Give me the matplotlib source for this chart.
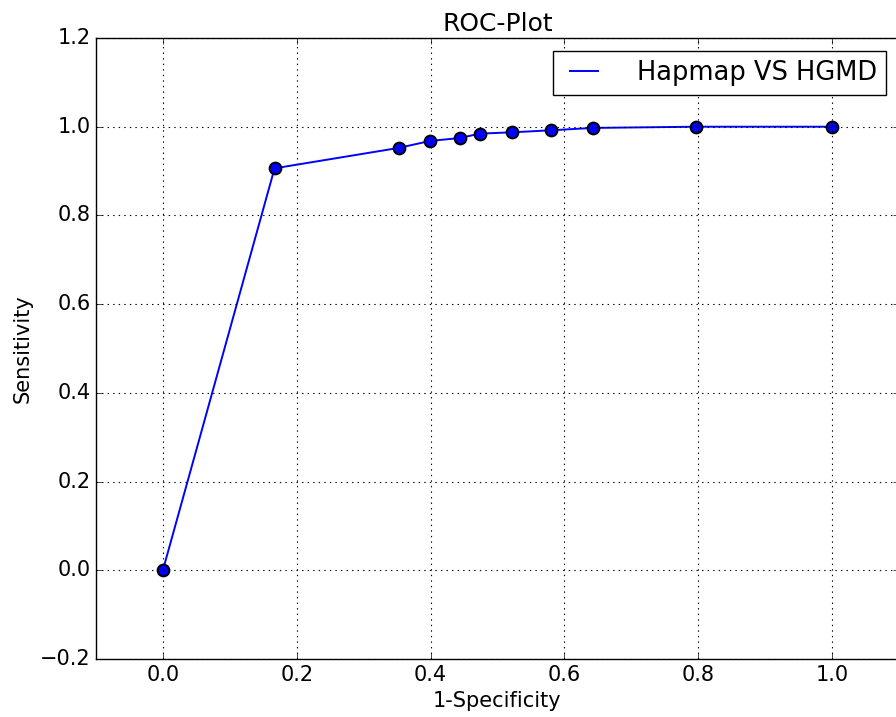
import numpy as np
import matplotlib
matplotlib.use('Agg')
import matplotlib.pyplot as plt

# ROC points
fpr = [0.0, 0.1669, 0.3523, 0.3996, 0.4436, 0.4738, 0.5220, 0.5795, 0.6430, 0.7970, 1.0]
tpr = [0.0, 0.9062, 0.9522, 0.9680, 0.9745, 0.9844, 0.9874, 0.9919, 0.9973, 1.0, 1.0]
label = 'Hapmap VS HGMD'

plt.style.use('classic')
plt.rcParams['font.family'] = ['DejaVu Sans']

fig = plt.figure(figsize=(8.96, 7.17), dpi=100, facecolor='white')
ax = fig.add_axes([0.1071, 0.0809, 0.8962, 0.8661])

ax.plot(fpr, tpr, color='b', linewidth=1.4, label=label)
ax.plot(fpr, tpr, 'o', color='b', markeredgecolor='k', markeredgewidth=1.4,
        markersize=8.5, linestyle='none')

ax.set_xlim(-0.1, 1.1)
ax.set_ylim(-0.2, 1.2)
ax.set_xticks(np.arange(0.0, 1.01, 0.2))
ax.set_yticks(np.arange(-0.2, 1.21, 0.2))
ax.tick_params(labelsize=15)
ax.grid(True, color='k', linestyle=':', linewidth=0.8)

ax.set_title('ROC-Plot', fontsize=18)
ax.set_xlabel('1-Specificity', fontsize=15)
ax.set_ylabel('Sensitivity', fontsize=15)

leg = ax.legend(loc='upper right', fontsize=18.5, handlelength=1.7,
                handletextpad=1.2, borderpad=0.35)
leg.get_frame().set_edgecolor('k')

fig.savefig('out.png', dpi=100, facecolor='white')
